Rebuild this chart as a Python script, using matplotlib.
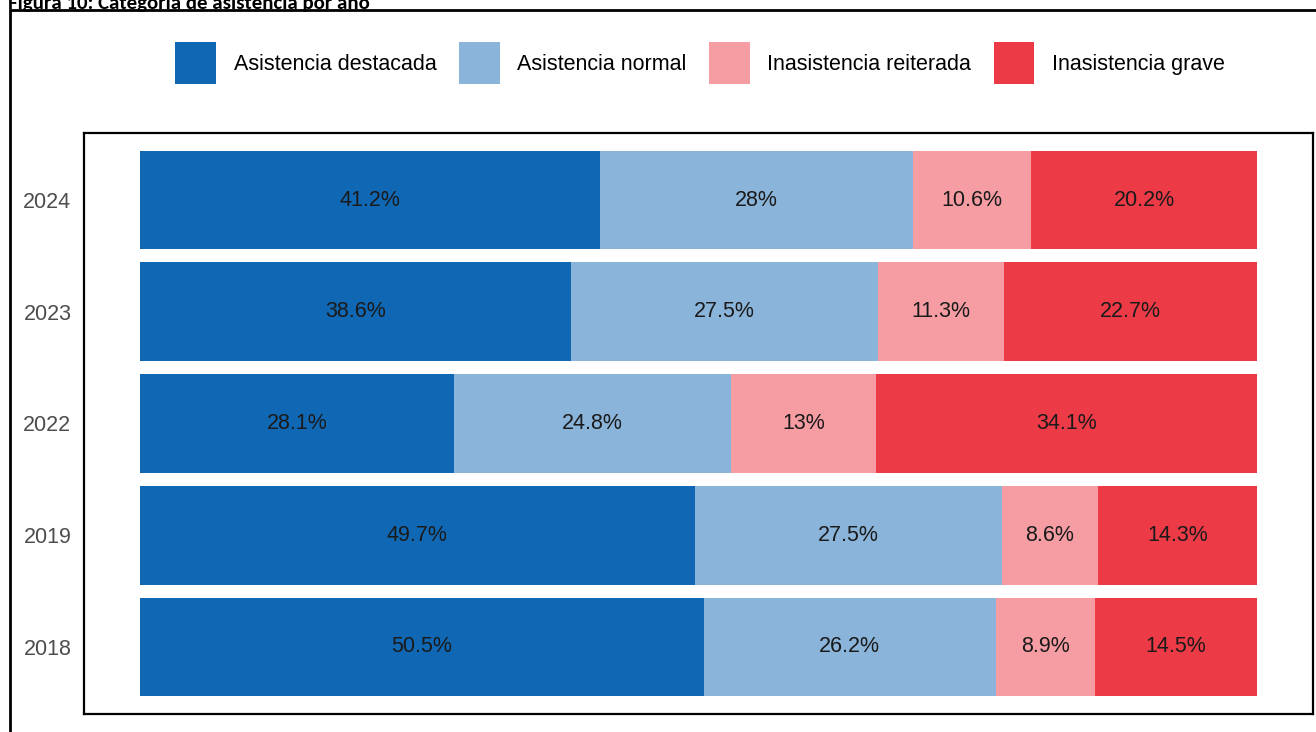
import matplotlib.pyplot as plt
import numpy as np
from matplotlib.patches import Rectangle

plt.rcParams['font.family'] = ['Liberation Sans', 'DejaVu Sans']

years = ['2018', '2019', '2022', '2023', '2024']
categorias = ['Asistencia destacada', 'Asistencia normal',
              'Inasistencia reiterada', 'Inasistencia grave']
colores = ['#1068B4', '#8AB4D9', '#F59DA3', '#EC3B47']

destacada = [50.5, 49.7, 28.1, 38.6, 41.2]
normal = [26.2, 27.5, 24.8, 27.5, 28.0]
reiterada = [8.9, 8.6, 13.0, 11.3, 10.6]
grave = [14.5, 14.3, 34.1, 22.7, 20.2]

series = np.array([destacada, normal, reiterada, grave])
totales = series.sum(axis=0)
fill = series / totales * 100

fig = plt.figure(figsize=(13.16, 7.32), dpi=100)
ax = fig.add_axes([84 / 1316, 1 - 714 / 732, (1313 - 84) / 1316, (714 - 133) / 732])

y = np.arange(len(years)) + 1
left = np.zeros(len(years))
for i, cat in enumerate(categorias):
    ax.barh(y, fill[i], left=left, height=0.885, color=colores[i],
            label=cat, linewidth=0)
    for j in range(len(years)):
        v = series[i][j]
        ax.text(left[j] + fill[i][j] / 2, y[j], f'{v:g}%', ha='center',
                va='center', fontsize=15.5, color='#1a1a1a')
    left += fill[i]

ax.set_xlim(-5, 105)
ax.set_ylim(0.4, 5.6)
ax.set_yticks(y)
ax.set_yticklabels(years, fontsize=15.5, color='#4D4D4D')
ax.set_xticks([])
ax.tick_params(axis='y', length=0, pad=9)
for s in ax.spines.values():
    s.set_linewidth(1.6)
    s.set_color('black')

fig.legend(loc='center', bbox_to_anchor=(700 / 1316, 1 - 63 / 732), ncol=4,
           frameon=False, fontsize=15.5, handlelength=1.9, handleheight=2.6,
           handletextpad=0.8, columnspacing=1.05)

# marco exterior (recortado por el borde de la imagen)
fig.patches.append(Rectangle((10 / 1316, -0.1), 1.2, 1 - 10 / 732 + 0.1,
                             transform=fig.transFigure, fill=False,
                             edgecolor='black', linewidth=2))

fig.text(8 / 1316, 1 - 4 / 732, 'Figura 10: Categoría de asistencia por año',
         fontsize=15, fontweight='bold', ha='left', va='center',
         family=['Carlito', 'Liberation Sans', 'DejaVu Sans'])

fig.savefig('out.png', dpi=100)
